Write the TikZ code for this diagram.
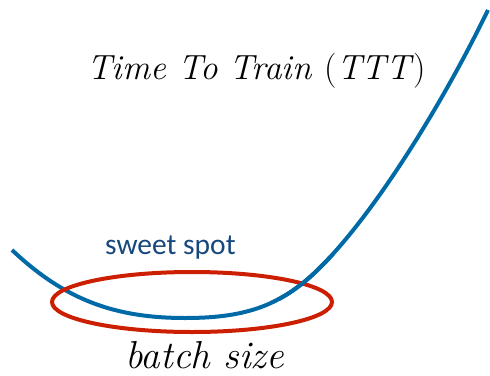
\documentclass[tikz,border=0pt]{standalone}
\usepackage{fontspec}
\newfontfamily\labelfont{Carlito}
\definecolor{curveblue}{RGB}{0,106,166}
\definecolor{ringred}{RGB}{204,30,0}
\definecolor{spotblue}{RGB}{22,72,125}
\newcommand{\tttcurve}{(12,250) .. controls (65,300) and (115,318) .. (185,318)
  .. controls (240,318) and (275,308) .. (310,277)
  .. controls (365,228) and (438,113) .. (488,10)}
\begin{document}
\begin{tikzpicture}[x=1pt,y=-1pt,
  curve/.style={draw=curveblue,line width=4pt},
  ring/.style={draw=ringred,line width=4pt},
  title/.style={inner sep=0pt,anchor=base west,font=\fontsize{35}{38}\selectfont},
  axis/.style={inner sep=0pt,text depth=0pt,anchor=base west,font=\fontsize{39}{42}\selectfont},
  spot/.style={inner sep=0pt,anchor=base west,text=spotblue,font=\labelfont\fontsize{29.5}{32}\selectfont}]
\useasboundingbox (0,0) rectangle (490,375);
% cost curve
\path[curve] \tttcurve;
% sweet-spot ring
\path[ring] (192,302) ellipse [x radius=140pt, y radius=30pt];
% curve passes over the ring on the right
\begin{scope}
  \clip (270,255) rectangle (345,300);
  \path[curve] \tttcurve;
\end{scope}
% labels
\node[title] (ttt) at (87,79) {\itshape Time To Train \textup{(}TTT\textup{)}};
\node[spot] (sweet) at (105,254) {sweet spot};
\node[axis] (batch) at (125,368) {\itshape batch size};
\end{tikzpicture}
\end{document}
